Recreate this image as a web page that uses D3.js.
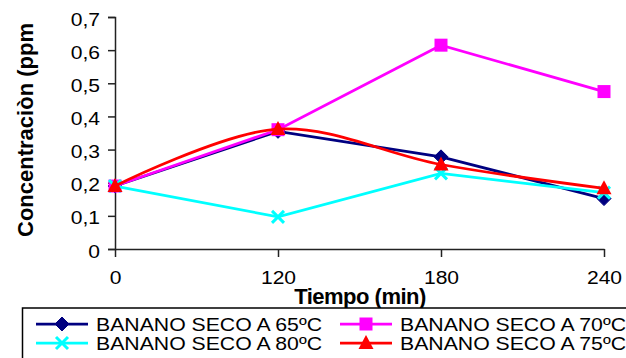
<!DOCTYPE html>
<html>
<head>
<meta charset="utf-8">
<script src="https://cdnjs.cloudflare.com/ajax/libs/d3/7.8.5/d3.min.js"></script>
<style>
  body { margin: 0; background: #fff; }
  svg { display: block; font-family: "Liberation Sans", Arial, sans-serif; }
</style>
</head>
<body>
<svg id="chart" width="626" height="358"></svg>
<script>
// data
const tiempos = ["0", "120", "180", "240"];
const yTicks = [0, 0.1, 0.2, 0.3, 0.4, 0.5, 0.6, 0.7];
const seco65 = [0.19, 0.355, 0.278, 0.152];
const seco70 = [0.19, 0.36, 0.615, 0.475];
const seco80 = [0.19, 0.097, 0.228, 0.17];
const seco75 = [0.19, 0.362, 0.255, 0.183];

const series = [
  { name: "BANANO SECO A 65ºC", values: seco65, color: "#000080", marker: "diamond" },
  { name: "BANANO SECO A 70ºC", values: seco70, color: "#ff00ff", marker: "square" },
  { name: "BANANO SECO A 80ºC", values: seco80, color: "#00ffff", marker: "x" },
  { name: "BANANO SECO A 75ºC", values: seco75, color: "#ff0000", marker: "triangle", smooth: true }
];

const svg = d3.select("#chart");

const x = d3.scalePoint().domain(tiempos).range([115, 604]);
const y = d3.scaleLinear().domain([0, 0.7]).range([249, 17]);

const fmt = d => d === 0 ? "0" : d3.format(".1f")(d).replace(".", ",");

// the original text is a bit stretched sideways
function widen(sel, k) {
  sel.each(function () {
    const len = this.getComputedTextLength();
    d3.select(this).attr("textLength", len * k).attr("lengthAdjust", "spacingAndGlyphs");
  });
}

// y axis
const yAxis = svg.append("g")
  .attr("transform", "translate(115,0)")
  .call(d3.axisLeft(y).tickValues(yTicks).tickFormat(fmt).tickSize(7).tickPadding(8));
yAxis.select(".domain").attr("stroke", "#222").attr("stroke-width", 1.5);
yAxis.selectAll(".tick line").attr("stroke", "#222").attr("stroke-width", 1.5);
yAxis.selectAll(".tick text")
  .attr("font-size", 18)
  .attr("font-family", "Liberation Sans, Arial, sans-serif")
  .attr("fill", "#000")
  .attr("dy", "0.45em")
  .call(widen, 1.17);

// x axis
const xAxis = svg.append("g")
  .attr("transform", "translate(0,249)")
  .call(d3.axisBottom(x).tickSizeInner(8).tickSizeOuter(0).tickPadding(14));
xAxis.select(".domain").attr("stroke", "#222").attr("stroke-width", 1.5);
xAxis.selectAll(".tick line").attr("stroke", "#222").attr("stroke-width", 1.5);
xAxis.selectAll(".tick text")
  .attr("font-size", 18)
  .attr("font-family", "Liberation Sans, Arial, sans-serif")
  .attr("fill", "#000")
  .call(widen, 1.17);

// axis titles
svg.append("text")
  .attr("x", 360).attr("y", 304)
  .attr("text-anchor", "middle")
  .attr("font-size", 22).attr("font-weight", "bold")
  .attr("letter-spacing", -0.5)
  .text("Tiempo (min)");

svg.append("text")
  .attr("transform", "translate(33,130) rotate(-90)")
  .attr("text-anchor", "middle")
  .attr("font-size", 22).attr("font-weight", "bold")
  .text("Concentraciòn (ppm");

function drawMarker(g, type, color, cx, cy) {
  if (type === "diamond") {
    g.append("path")
      .attr("d", `M${cx},${cy - 7}L${cx + 7},${cy}L${cx},${cy + 7}L${cx - 7},${cy}Z`)
      .attr("fill", color).attr("stroke", color);
  } else if (type === "square") {
    g.append("rect")
      .attr("x", cx - 6.5).attr("y", cy - 6.5).attr("width", 13).attr("height", 13)
      .attr("fill", color);
  } else if (type === "triangle") {
    g.append("path")
      .attr("d", `M${cx},${cy - 8}L${cx + 7.5},${cy + 6}L${cx - 7.5},${cy + 6}Z`)
      .attr("fill", color);
  } else if (type === "x") {
    g.append("path")
      .attr("d", `M${cx - 6},${cy - 6}L${cx + 6},${cy + 6}M${cx + 6},${cy - 6}L${cx - 6},${cy + 6}`)
      .attr("stroke", color).attr("stroke-width", 3).attr("fill", "none");
  }
}

// series lines and markers
series.forEach(s => {
  const line = d3.line()
    .x((d, i) => x(tiempos[i]))
    .y(d => y(d))
    .curve(s.smooth ? d3.curveCatmullRom.alpha(0.5) : d3.curveLinear);
  const g = svg.append("g");
  g.append("path")
    .attr("d", line(s.values))
    .attr("fill", "none")
    .attr("stroke", s.color)
    .attr("stroke-width", 2.75);
  s.values.forEach((v, i) => drawMarker(g, s.marker, s.color, x(tiempos[i]), y(v)));
});

// legend
const legend = svg.append("g");
legend.append("rect")
  .attr("x", 22.5).attr("y", 308)
  .attr("width", 640).attr("height", 80)
  .attr("fill", "#fff").attr("stroke", "#000").attr("stroke-width", 1.5);

const legendPos = [
  { lx: 36, ly: 324 }, { lx: 340, ly: 324 },
  { lx: 36, ly: 343 }, { lx: 340, ly: 343 }
];
series.forEach((s, i) => {
  const p = legendPos[i];
  legend.append("line")
    .attr("x1", p.lx).attr("x2", p.lx + 52)
    .attr("y1", p.ly).attr("y2", p.ly)
    .attr("stroke", s.color).attr("stroke-width", 2.75);
  drawMarker(legend, s.marker, s.color, p.lx + 26, p.ly);
  legend.append("text")
    .attr("x", p.lx + 60).attr("y", p.ly + 7)
    .attr("font-size", 19)
    .attr("textLength", 226)
    .attr("lengthAdjust", "spacingAndGlyphs")
    .text(s.name);
});
</script>
</body>
</html>
